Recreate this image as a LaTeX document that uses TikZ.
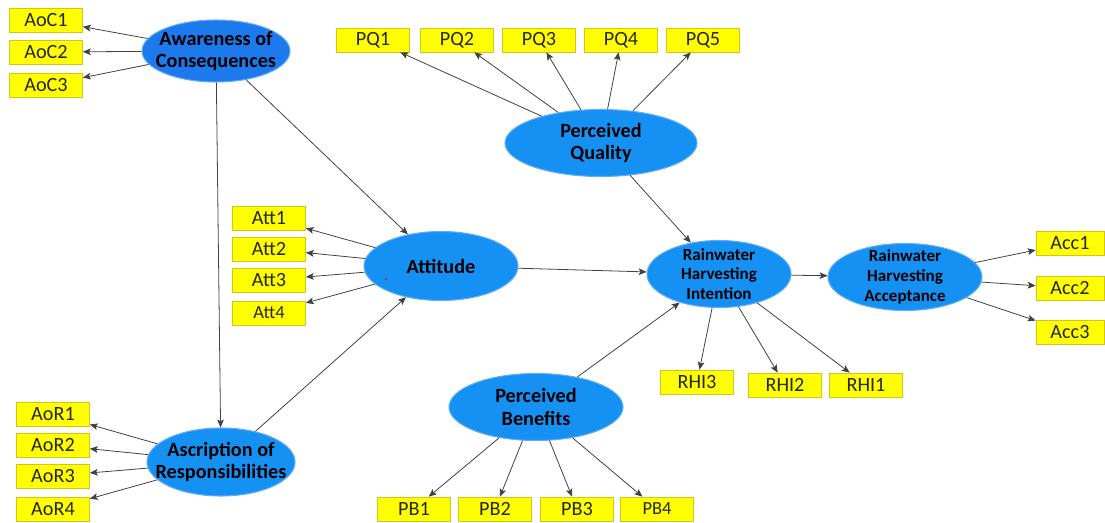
\documentclass[tikz,border=0pt]{standalone}
\usepackage{fontspec}
\setmainfont{Carlito}
\usetikzlibrary{shapes.geometric,arrows.meta}
\definecolor{lvblue}{RGB}{21,145,243}
\definecolor{lvdark}{RGB}{28,122,236}
\definecolor{lvedge}{RGB}{95,172,248}
\definecolor{mvyellow}{RGB}{255,255,0}
\definecolor{mvedge}{RGB}{214,196,20}
\tikzset{
	latent/.style={ellipse, fill=lvblue, draw=lvedge, line width=0.6pt, inner xsep=-20pt, inner ysep=-6pt, minimum height=1.34cm, align=center, font=\fontsize{11.5}{12.6}\selectfont\bfseries},
	small latent/.style={latent, font=\fontsize{9.7}{11.3}\selectfont\bfseries},
	item/.style={rectangle, fill=mvyellow, draw=mvedge, line width=0.4pt, minimum width=1.46cm, minimum height=0.48cm, inner sep=0pt, text=black!85, font=\fontsize{11.5}{12}\selectfont},
	arr/.style={-{Stealth[length=4.5pt,width=3.8pt,inset=1pt]}, draw=black!75, line width=0.45pt}
}
\begin{document}
\begin{tikzpicture}
		\useasboundingbox (0, 0) rectangle (22.1, 10.44);
		\node [style=latent, fill=lvdark, minimum width=2.96cm, minimum height=1.24cm] (0) at (4.32, 9.42) {Awareness of\\Consequences};
		\node [style=latent, minimum width=3.84cm] (1) at (12.02, 7.58) {Perceived\\Quality};
		\node [style=latent, minimum width=3.08cm, minimum height=1.38cm] (2) at (8.82, 5.12) {Attitude};
		\node [style=latent, minimum width=2.96cm, minimum height=1.36cm] (3) at (4.42, 1.2) {Ascription of\\Responsibilities};
		\node [style=small latent, minimum width=2.88cm] (4) at (14.38, 4.96) {Rainwater\\Harvesting\\Intention};
		\node [style=small latent, minimum width=3.08cm] (5) at (18.1, 4.9) {Rainwater\\Harvesting\\Acceptance};
		\node [style=latent, minimum width=3.48cm] (6) at (10.72, 2.3) {Perceived\\Benefits};
		\node [style=item] (7) at (0.92, 10.04) {AoC1};
		\node [style=item] (8) at (0.92, 9.4) {AoC2};
		\node [style=item] (9) at (0.92, 8.74) {AoC3};
		\node [style=item] (10) at (7.46, 9.64) {PQ1};
		\node [style=item] (11) at (9.14, 9.64) {PQ2};
		\node [style=item] (12) at (10.78, 9.64) {PQ3};
		\node [style=item] (13) at (12.42, 9.64) {PQ4};
		\node [style=item] (14) at (14.06, 9.64) {PQ5};
		\node [style=item] (15) at (5.38, 6.08) {Att1};
		\node [style=item] (16) at (5.38, 5.46) {Att2};
		\node [style=item] (17) at (5.38, 4.84) {Att3};
		\node [style=item, font=\fontsize{10.5}{12}\selectfont] (18) at (5.38, 4.18) {Att4};
		\node [style=item] (19) at (1.06, 2.16) {AoR1};
		\node [style=item] (20) at (1.06, 1.54) {AoR2};
		\node [style=item] (21) at (1.06, 0.92) {AoR3};
		\node [style=item] (22) at (1.06, 0.26) {AoR4};
		\node [style=item] (23) at (17.32, 2.74) {RHI1};
		\node [style=item] (24) at (15.7, 2.74) {RHI2};
		\node [style=item] (25) at (13.94, 2.8) {RHI3};
		\node [style=item, minimum width=1.36cm] (26) at (21.4, 5.58) {Acc1};
		\node [style=item, minimum width=1.36cm] (27) at (21.4, 4.68) {Acc2};
		\node [style=item, minimum width=1.36cm] (28) at (21.4, 3.8) {Acc3};
		\node [style=item] (29) at (8.28, 0.26) {PB1};
		\node [style=item] (30) at (9.9, 0.26) {PB2};
		\node [style=item] (31) at (11.54, 0.26) {PB3};
		\node [style=item, font=\fontsize{10.5}{12}\selectfont] (32) at (13.14, 0.26) {PB4};

\fill[red] (7.72, 4.86) circle (0.02);

		\draw [style=arr] (0) to (7);
		\draw [style=arr] (0) to (8);
		\draw [style=arr] (0) to (9);
		\draw [style=arr] (0) to (3);
		\draw [style=arr] (0) to (2);
		\draw [style=arr] (1) to (10);
		\draw [style=arr] (1) to (11);
		\draw [style=arr] (1) to (12);
		\draw [style=arr] (1) to (13);
		\draw [style=arr] (1) to (14);
		\draw [style=arr] (1) to (4);
		\draw [style=arr] (2) to (15);
		\draw [style=arr] (2) to (16);
		\draw [style=arr] (2) to (17);
		\draw [style=arr] (2) to (18);
		\draw [style=arr] (2) to (4);
		\draw [style=arr] (3) to (19);
		\draw [style=arr] (3) to (20);
		\draw [style=arr] (3) to (21);
		\draw [style=arr] (3) to (22);
		\draw [style=arr] (3) to (2);
		\draw [style=arr] (4) to (23);
		\draw [style=arr] (4) to (24);
		\draw [style=arr] (4) to (25);
		\draw [style=arr] (4) to (5);
		\draw [style=arr] (5) to (26);
		\draw [style=arr] (5) to (27);
		\draw [style=arr] (5) to (28);
		\draw [style=arr] (6) to (29);
		\draw [style=arr] (6) to (30);
		\draw [style=arr] (6) to (31);
		\draw [style=arr] (6) to (32);
		\draw [style=arr] (6) to (4);
\end{tikzpicture}
\end{document}
